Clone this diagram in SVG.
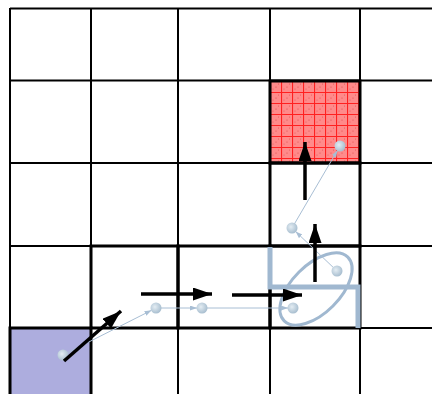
<svg xmlns="http://www.w3.org/2000/svg" width="432" height="394" viewBox="0 0 432 394">
<style>
.grid{stroke:#000;stroke-width:2;fill:none}
.cell{stroke:#000;stroke-width:3;fill:none}
.conn{stroke:#a8bed4;stroke-width:1;fill:none}
.move{stroke:#000;stroke-width:3.5;fill:none}
.cov{stroke:#a0b8d0;fill:none}
</style>
<defs>
<pattern id="redpat" x="270" y="81" width="11" height="11" patternUnits="userSpaceOnUse">
<rect width="11" height="11" fill="#ff8a8a"/>
<path d="M0,0.5H11M0.5,0V11" stroke="#ff2020" stroke-width="1.2"/>
<circle cx="6" cy="6" r="0.6" fill="#e04848"/>
<circle cx="3" cy="8" r="0.5" fill="#e05050"/>
<circle cx="8.5" cy="3" r="0.5" fill="#e05050"/>
</pattern>
<radialGradient id="dotg" cx="0.4" cy="0.4" r="0.6">
<stop offset="0" stop-color="#e4edf3"/>
<stop offset="1" stop-color="#a9bfd0"/>
</radialGradient>
<marker id="bh" markerUnits="userSpaceOnUse" markerWidth="20" markerHeight="14" refX="19" refY="6.5" orient="auto">
<path d="M0,0L19,6.5L0,13z" fill="#000"/>
</marker>
<marker id="sh" markerUnits="userSpaceOnUse" markerWidth="8" markerHeight="6" refX="7" refY="2.5" orient="auto">
<path d="M0,0L7,2.5L0,5z" fill="#a8bed4"/>
</marker>
</defs>
<g id="grid">
<rect x="10" y="328" width="81" height="66" fill="#adadde"/>
<rect x="270" y="81" width="90" height="82" fill="url(#redpat)"/>
<path class="grid" d="M10,8.5H432M10,80.5H432M10,163H432M10,246H432M10,328H432M10,8V394M91,8V394M178,8V394M270,8V394M360,8V394"/>
</g>
<g id="start"><rect class="cell" x="10" y="328" width="81" height="68"/></g>
<g id="c1"><rect class="cell" x="91" y="246" width="87" height="82"/></g>
<g id="c2"><rect class="cell" x="178" y="246" width="92" height="82"/></g>
<g id="c3"><rect class="cell" x="270" y="246" width="90" height="82"/></g>
<g id="c4"><rect class="cell" x="270" y="163" width="90" height="83"/></g>
<g id="goal"><rect class="cell" x="270" y="81" width="90" height="82"/></g>
<g id="coverage">
<path class="cov" stroke-width="5" d="M270,247V287H358V328"/>
<ellipse class="cov" stroke-width="3" cx="316" cy="289" rx="45" ry="24" transform="rotate(-45 316 289)"/>
</g>
<g id="connectors">
<path class="conn" marker-end="url(#sh)" d="M63,355L151.5,310.3"/>
<path class="conn" marker-end="url(#sh)" d="M156,308H197"/>
<path class="conn" marker-end="url(#sh)" d="M202,308H288"/>
<path class="conn" marker-end="url(#sh)" d="M337,271L295.6,231.5"/>
<path class="conn" marker-end="url(#sh)" d="M292,228L337.5,150.3"/>
</g>
<g id="dots" fill="url(#dotg)">
<circle cx="63" cy="355" r="5.5"/>
<circle cx="156" cy="308" r="5.5"/>
<circle cx="202" cy="308" r="5.5"/>
<circle cx="293" cy="308" r="5.5"/>
<circle cx="337" cy="271" r="5.5"/>
<circle cx="292" cy="228" r="5.5"/>
<circle cx="340" cy="146" r="5.5"/>
</g>
<g id="moves">
<path class="move" marker-end="url(#bh)" d="M64,361L121,311"/>
<path class="move" marker-end="url(#bh)" d="M141,294H212"/>
<path class="move" marker-end="url(#bh)" d="M232,295H302"/>
<path class="move" marker-end="url(#bh)" d="M315,282V224"/>
<path class="move" marker-end="url(#bh)" d="M305,200V142"/>
</g>
</svg>
